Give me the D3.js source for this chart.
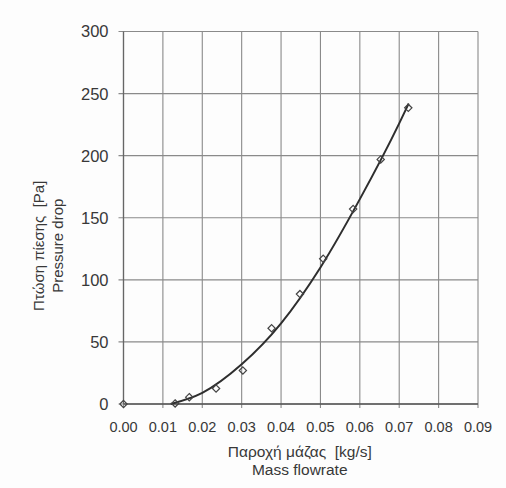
<!DOCTYPE html>
<html>
<head>
<meta charset="utf-8">
<script src="https://cdn.jsdelivr.net/npm/d3@7"></script>
<style>
    body { margin: 0; background: #fdfdfd; }
    text { font-family: "Liberation Sans", Arial, sans-serif; fill: #383838; }
</style>
</head>
<body>
<main></main>
<script>
// Measured points (diamonds)
const flowrate = [0.0, 0.0131, 0.0167, 0.0235, 0.0303, 0.0376, 0.0448, 0.0507, 0.0583, 0.0653, 0.0723]
const pressure = [0, 0.5, 5.5, 12.5, 27, 61, 88.5, 117, 157, 197, 238.5]

// Trend curve
const trendX = [0.012, 0.02, 0.03, 0.04, 0.05, 0.06, 0.07, 0.0724]
const trendY = [0, 9, 32, 65, 110, 165, 226, 242]

// Ticks
const xTicks = [0, 0.01, 0.02, 0.03, 0.04, 0.05, 0.06, 0.07, 0.08, 0.09]
const yTicks = [0, 50, 100, 150, 200, 250, 300]

const xTitle = ['Παροχή μάζας\u00a0\u00a0[kg/s]', 'Mass flowrate']
const yTitle = ['Πτώση πίεσης\u00a0\u00a0[Pa]', 'Pressure drop']

function GeneratePlot() {
    const total_width = 506
    const total_height = 488
    const margin = {
        top: 31.5,
        right: 28,
        bottom: 84,
        left: 123.5
    }
    const width = total_width - margin.left - margin.right
    const height = total_height - margin.top - margin.bottom
    const gridColor = '#8a8a8a'

    const svg = d3.select('main')
        .append('svg')
        .attr('width', total_width)
        .attr('height', total_height)

    const plot = svg.append('g')
        .attr('transform', `translate(${margin.left},${margin.top})`)

    const x = d3.scaleLinear()
        .domain([0, 0.09])
        .range([0, width])
    const y = d3.scaleLinear()
        .domain([0, 300])
        .range([height, 0])

    // Grid
    plot.append('g')
        .selectAll('line')
        .data(xTicks)
        .enter()
        .append('line')
        .attr('x1', x)
        .attr('x2', x)
        .attr('y1', 0)
        .attr('y2', height + 4)
        .attr('stroke', gridColor)
        .attr('stroke-width', 1.1)

    plot.append('g')
        .selectAll('line')
        .data(yTicks)
        .enter()
        .append('line')
        .attr('x1', -5)
        .attr('x2', width)
        .attr('y1', y)
        .attr('y2', y)
        .attr('stroke', gridColor)
        .attr('stroke-width', 1.1)

    // Axes (darker lines)
    plot.append('line')
        .attr('x1', 0).attr('x2', width)
        .attr('y1', height).attr('y2', height)
        .attr('stroke', '#555').attr('stroke-width', 1.4)
    plot.append('line')
        .attr('x1', 0).attr('x2', 0)
        .attr('y1', 0).attr('y2', height)
        .attr('stroke', '#666').attr('stroke-width', 1.3)

    // Tick labels
    plot.append('g')
        .selectAll('text')
        .data(xTicks)
        .enter()
        .append('text')
        .attr('x', x)
        .attr('y', height + 28)
        .attr('text-anchor', 'middle')
        .style('font-size', '14.5px')
        .text(d3.format('.2f'))

    plot.append('g')
        .selectAll('text')
        .data(yTicks)
        .enter()
        .append('text')
        .attr('x', -15)
        .attr('y', y)
        .attr('dy', '0.36em')
        .attr('text-anchor', 'end')
        .style('font-size', '16.5px')
        .text(d => d)

    // Trend curve
    const line = d3.line()
        .x((d, i) => x(trendX[i]))
        .y(d => y(d))
        .curve(d3.curveMonotoneX)
    plot.append('path')
        .datum(trendY)
        .attr('d', line)
        .attr('fill', 'none')
        .attr('stroke', '#2e2e2e')
        .attr('stroke-width', 2)

    // Diamonds
    const diamond = d3.symbol().type(d3.symbolDiamond2).size(34)
    plot.append('g')
        .selectAll('path')
        .data(pressure)
        .enter()
        .append('path')
        .attr('d', diamond)
        .attr('transform', (d, i) => `translate(${x(flowrate[i])},${y(d)})`)
        .attr('fill', 'none')
        .attr('stroke', '#444')
        .attr('stroke-width', 1.2)

    // Axis titles
    const xt = svg.append('g')
        .attr('transform', `translate(${margin.left + width / 2 - 1},0)`)
    xt.selectAll('text')
        .data(xTitle)
        .enter()
        .append('text')
        .attr('y', (d, i) => 457 + i * 18)
        .attr('text-anchor', 'middle')
        .style('font-size', '15.5px')
        .text(d => d)

    const yt = svg.append('g')
        .attr('transform', `translate(0,${margin.top + height / 2 + 28}) rotate(-90)`)
    yt.selectAll('text')
        .data(yTitle)
        .enter()
        .append('text')
        .attr('y', (d, i) => 44 + i * 19)
        .attr('text-anchor', 'middle')
        .style('font-size', '15px')
        .text(d => d)
}

GeneratePlot()
</script>
</body>
</html>
